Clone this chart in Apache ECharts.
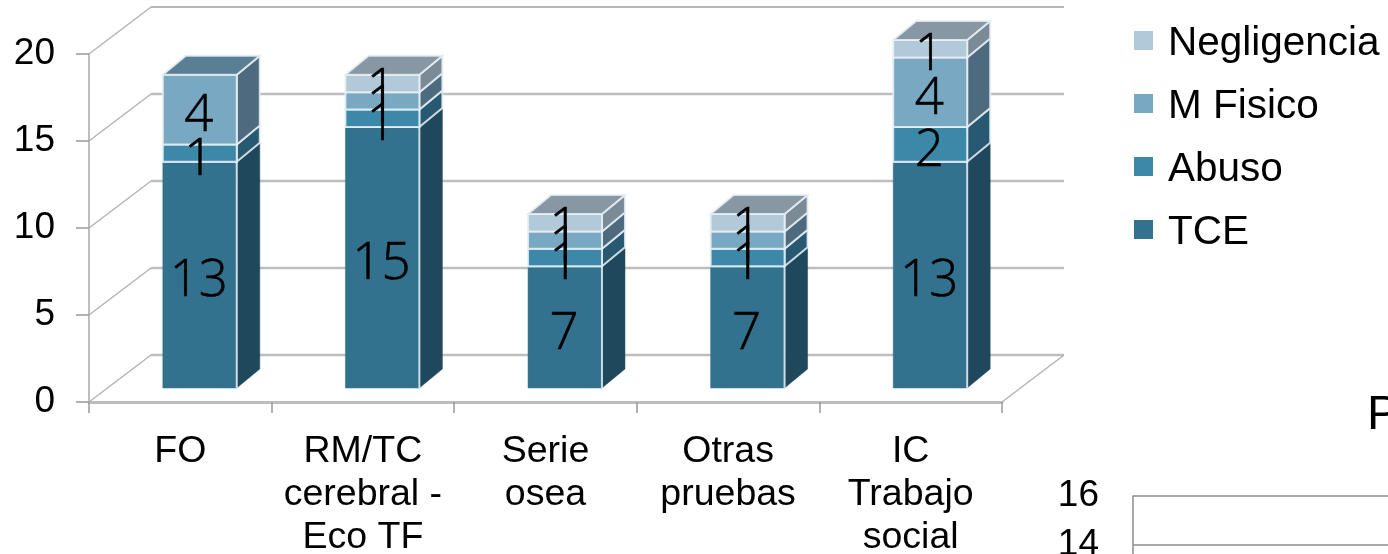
<!DOCTYPE html>
<html><head><meta charset="utf-8">
<style>html,body{margin:0;padding:0;background:#fff;overflow:hidden}#c{width:1388px;height:554px}</style>
<script src="https://cdn.jsdelivr.net/npm/echarts@6/dist/echarts.min.js"></script>
</head><body><div id="c"></div>
<script>
const categories = ['FO', 'RM/TC\ncerebral -\nEco TF', 'Serie\nosea', 'Otras\npruebas', 'IC\nTrabajo\nsocial'];
const seriesNames = ['TCE', 'Abuso', 'M Fisico', 'Negligencia'];
const tce = [13, 15, 7, 7, 13];
const abuso = [1, 1, 1, 1, 2];
const mFisico = [4, 1, 1, 1, 4];
const negligencia = [0, 1, 1, 1, 1];
const yTicks = [0, 5, 10, 15, 20];
const secondChartTicks = [0, 2, 4, 6, 8, 10, 12, 14, 16];
const secondChartTitle = 'P';

const stacks = [tce, abuso, mFisico, negligencia];
const frontColors = ['#33728F', '#3C88A9', '#78A8C2', '#B1C9D8'];
const sideColors = ['#20485C', '#275A72', '#4D6A7E', '#7A8B97'];
const topColors = ['#2A5F78', '#326F8A', '#5A7F95', '#8797A3'];

// 3D projection settings, in pixels
const wallDx = 62, wallDy = -47;
const barShiftX = 19.5, barShiftY = -14;
const depthX = 23, depthY = -19;
const barRatio = 0.405;
const edge = 'rgba(232,240,245,0.85)';

function poly(points, fill, withEdge) {
  return {type: 'polygon', shape: {points},
    style: {fill, stroke: withEdge ? edge : fill, lineWidth: withEdge ? 2 : 0.5}};
}

function renderStack(s) {
  return function (params, api) {
    const i = api.value(0), base = api.value(1), val = api.value(2);
    if (!val) return null;
    const w = api.size([1, 0])[0] * barRatio;
    const a = api.coord([i, base]), b = api.coord([i, base + val]);
    const l = a[0] + barShiftX - w / 2, r = l + w;
    const y0 = a[1] + barShiftY, y1 = b[1] + barShiftY;
    const isTop = stacks.slice(s + 1).every(st => !st[i]);
    const kids = [
      poly([[r, y0], [r + depthX, y0 + depthY], [r + depthX, y1 + depthY], [r, y1]], sideColors[s], base > 0 || isTop),
      poly([[l, y0], [r, y0], [r, y1], [l, y1]], frontColors[s], base > 0 || isTop)
    ];
    if (s === 0) {
      kids[0].style.stroke = sideColors[0];
      kids[1].style.stroke = frontColors[0];
      kids.push({type: 'polyline', shape: {points: [[l, y1], [r, y1], [r, y0]]},
        style: {fill: 'none', stroke: edge, lineWidth: 2}});
    }
    if (isTop) kids.push(poly([[l, y1], [r, y1], [r + depthX, y1 + depthY], [l + depthX, y1 + depthY]], topColors[s], true));
    return {type: 'group', children: kids};
  };
}

function renderLabel(params, api) {
  const i = api.value(0), base = api.value(1), val = api.value(2);
  const c = api.coord([i, base + val / 2]);
  return {type: 'text', style: {
    x: c[0] + barShiftX - 1, y: c[1] + barShiftY + 7, text: String(val),
    font: '300 51px "Open Sans"', fill: '#000', stroke: '#000', lineWidth: 0.6,
    align: 'center', verticalAlign: 'middle'
  }};
}

function renderWall(params, api) {
  const v = api.value(0);
  const cs = params.coordSys;
  const y = api.coord([0, v])[1];
  const l = cs.x, r = cs.x + cs.width;
  const kids = [
    {type: 'line', shape: {x1: l, y1: y, x2: l + wallDx, y2: y + wallDy},
      style: {stroke: '#B4B4B4', lineWidth: 1.5}},
    {type: 'line', shape: {x1: l + wallDx, y1: y + wallDy, x2: r + wallDx, y2: y + wallDy},
      style: {stroke: v === yTicks[yTicks.length - 1] ? '#A0A0A0' : '#BEBEBE', lineWidth: v === yTicks[yTicks.length - 1] ? 1.5 : 2.5}}
  ];
  if (v === 0) kids.push({type: 'line', shape: {x1: r, y1: y, x2: r + wallDx, y2: y + wallDy},
    style: {stroke: '#B4B4B4', lineWidth: 1.5}});
  return {type: 'group', children: kids};
}

const barSeries = stacks.map((st, s) => ({
  name: seriesNames[s], type: 'custom', z: 3, xAxisIndex: 0, yAxisIndex: 0,
  renderItem: renderStack(s),
  itemStyle: {color: frontColors[s]},
  encode: {x: 0, y: [1, 2]},
  data: st.map((v, i) => [i, stacks.slice(0, s).reduce((t, a) => t + a[i], 0), v])
}));

const labelData = [];
stacks.forEach((st, s) => st.forEach((v, i) => {
  if (v) labelData.push([i, stacks.slice(0, s).reduce((t, a) => t + a[i], 0), v]);
}));

const chart = echarts.init(document.getElementById('c'), null, {renderer: 'canvas'});
chart.setOption({
  animation: false,
  backgroundColor: '#fff',
  textStyle: {fontFamily: '"Liberation Sans"'},
  title: {text: secondChartTitle, left: 1367, top: 392, padding: 0,
    textStyle: {fontFamily: '"Liberation Sans"', fontSize: 48, fontWeight: 'normal', color: '#000'}},
  legend: {
    orient: 'vertical', left: 1134, top: 23, padding: 0, itemWidth: 19, itemHeight: 19, itemGap: 22,
    icon: 'rect', data: seriesNames.slice().reverse(), selectedMode: false,
    formatter: n => '{t|' + n + '}',
    textStyle: {rich: {t: {fontFamily: '"Liberation Sans"', fontSize: 40.5, color: '#000', padding: [6, 0, 0, 10]}}}
  },
  grid: [
    {left: 89, top: 54, width: 913, height: 348, outerBoundsMode: 'none'},
    {left: 1133, top: 496, width: 400, height: 392, outerBoundsMode: 'none'}
  ],
  xAxis: [
    {type: 'category', gridIndex: 0, data: categories,
      axisLine: {lineStyle: {color: '#BDBDBD', width: 3}},
      axisTick: {show: true, alignWithLabel: false, length: 11, lineStyle: {color: '#999', width: 1.5}},
      axisLabel: {color: '#000', fontSize: 37.5, lineHeight: 43, margin: 28, interval: 0, fontFamily: '"Liberation Sans"'}},
    {type: 'category', gridIndex: 1, data: [''], axisLine: {show: false}, axisTick: {show: false}, axisLabel: {show: false}}
  ],
  yAxis: [
    {type: 'value', gridIndex: 0, min: 0, max: 20, interval: 5,
      axisLine: {show: true, lineStyle: {color: '#A8A8A8', width: 1.5}},
      axisTick: {show: true, length: 13, lineStyle: {color: '#999', width: 1.5}},
      splitLine: {show: false},
      axisLabel: {color: '#000', fontSize: 37, margin: 34, fontFamily: '"Liberation Sans"'}},
    {type: 'value', gridIndex: 1, min: secondChartTicks[0], max: secondChartTicks[secondChartTicks.length - 1], interval: 2,
      axisLine: {show: true, lineStyle: {color: '#8C8C8C', width: 1.5}},
      axisTick: {show: false},
      splitLine: {show: true, lineStyle: {color: '#8C8C8C', width: 1.5}},
      axisLabel: {color: '#000', fontSize: 37, margin: 34, fontFamily: '"Liberation Sans"'}}
  ],
  series: [
    {type: 'custom', name: 'wall', z: 1, xAxisIndex: 0, yAxisIndex: 0, renderItem: renderWall,
      encode: {y: 0}, data: yTicks.map(v => [v]), silent: true},
    ...barSeries,
    {type: 'custom', name: 'labels', z: 5, xAxisIndex: 0, yAxisIndex: 0, renderItem: renderLabel,
      encode: {x: 0, y: [1, 2]}, data: labelData, silent: true}
  ]
});
</script></body></html>
